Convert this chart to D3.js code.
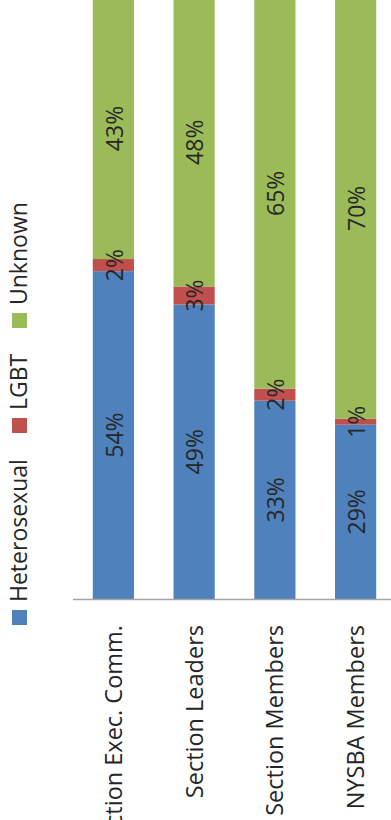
<!DOCTYPE html>
<html>
<head>
<meta charset="utf-8">
<script src="https://cdn.jsdelivr.net/npm/d3@7"></script>
<style>
  body { margin: 0; background: #fff; }
  text { font-family: "Open Sans", sans-serif; fill: #262626; }
</style>
</head>
<body>
<div id="chart"></div>
<script>
var width = 391,
    height = 820;

var categories = ["Section Exec. Comm.", "Section Leaders", "Section Members", "NYSBA Members"];
var seriesNames = ["Heterosexual", "LGBT", "Unknown"];
var heterosexual = [54, 49, 33, 29];
var lgbt = [2, 3, 2, 1];
var unknown = [43, 48, 65, 70];
var colors = ["#4f81bd", "#c0504d", "#9bbb59"];

var rows = categories.map(function(c, i) {
  return { cat: c, Heterosexual: heterosexual[i], LGBT: lgbt[i], Unknown: unknown[i] };
});

var svg = d3.select("#chart")
  .append("svg")
  .attr("width", width)
  .attr("height", height);

var x = d3.scaleBand()
  .domain(categories)
  .range([73, 396])
  .paddingInner(0.49)
  .paddingOuter(0.245);

var y = d3.scaleLinear()
  .domain([0, 1])
  .range([599, -2]);

// 100% stacked, like the excel chart
var stacked = d3.stack()
  .keys(seriesNames)
  .offset(d3.stackOffsetExpand)(rows);

var layers = svg.selectAll(".layer")
  .data(stacked)
  .enter().append("g")
  .attr("class", "layer")
  .attr("fill", function(d, i) { return colors[i]; });

layers.selectAll("rect")
  .data(function(d) { return d; })
  .enter().append("rect")
  .attr("x", function(d) { return x(d.data.cat); })
  .attr("width", x.bandwidth())
  .attr("y", function(d) { return y(d[1]); })
  .attr("height", function(d) { return y(d[0]) - y(d[1]); });

// value labels go on top of all the bars
var labelLayers = svg.selectAll(".labels")
  .data(stacked)
  .enter().append("g")
  .attr("class", "labels");

labelLayers.each(function(s) {
  d3.select(this).selectAll("text")
    .data(s)
    .enter().append("text")
    .attr("transform", function(d) {
      var cx = x(d.data.cat) + x.bandwidth() / 2,
          cy = (y(d[0]) + y(d[1])) / 2;
      return "translate(" + cx + "," + cy + ") rotate(-90)";
    })
    .attr("text-anchor", "middle")
    .attr("dy", "0.4em")
    .style("font-size", "23px")
    .text(function(d) { return d.data[s.key] + "%"; });
});

// axis line
svg.append("line")
  .attr("x1", x.range()[0])
  .attr("x2", x.range()[1])
  .attr("y1", y(0) + 0.5)
  .attr("y2", y(0) + 0.5)
  .attr("stroke", "#a6a6a6")
  .attr("stroke-width", 1.5);

// category labels
svg.selectAll(".cat")
  .data(categories)
  .enter().append("text")
  .attr("class", "cat")
  .attr("transform", function(d) {
    return "translate(" + (x(d) + x.bandwidth() / 2) + ",625) rotate(-90)";
  })
  .attr("text-anchor", "end")
  .attr("dy", "0.36em")
  .style("font-size", "23.5px")
  .text(function(d) { return d; });

// legend
var legendY = [625, 433, 328];
var legend = svg.selectAll(".legend")
  .data(seriesNames)
  .enter().append("g")
  .attr("class", "legend")
  .attr("transform", function(d, i) { return "translate(12," + legendY[i] + ")"; });

legend.append("rect")
  .attr("x", 0)
  .attr("y", -15)
  .attr("width", 15)
  .attr("height", 15)
  .attr("fill", function(d, i) { return colors[i]; });

legend.append("text")
  .attr("transform", "translate(15,-23) rotate(-90)")
  .attr("text-anchor", "start")
  .style("font-size", "23px")
  .text(function(d) { return d; });
</script>
</body>
</html>
